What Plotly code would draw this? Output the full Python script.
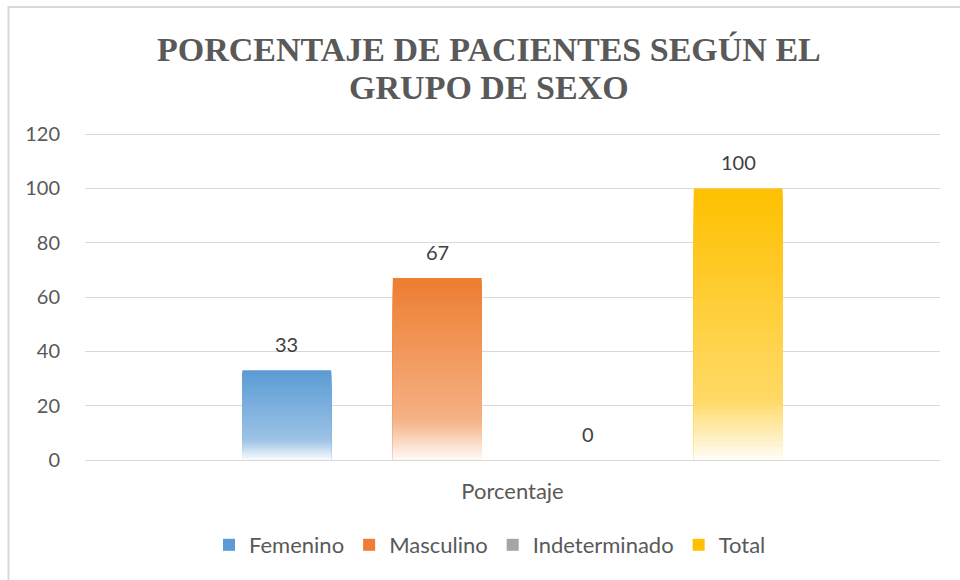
import plotly.graph_objects as go

# ---- data ----
category = ["Porcentaje"]
series_names = ["Femenino", "Masculino", "Indeterminado", "Total"]
series_values = [33, 67, 0, 100]
series_colors = ["#5B9BD5", "#ED7D31", "#A5A5A5", "#FFC000"]
y_ticks = [0, 20, 40, 60, 80, 100, 120]
title_lines = ["PORCENTAJE DE PACIENTES SEGÚN EL", "GRUPO DE SEXO"]

# ---- layout geometry (pixels) ----
W, H = 960, 580
ML, MR, MT, MB = 85, 20, 133, 120
PW = W - ML - MR
PH = H - MT - MB
BARGAP = 0.296
BARGROUPGAP = 0.41
Y_RANGE = [0, 120.4]


def px_x(px):
    return (px - ML) / PW


def px_y(py):
    return (H - MB - py) / PH


font_main = "Lato, Open Sans, sans-serif"


# ---- gradient style helpers (Excel-like fade to white at the bottom) ----
def white_frac(h):
    knee, w_knee, w_bottom = 0.22, 0.40, 0.97
    if h >= knee:
        return w_knee * (1 - h) / (1 - knee)
    return w_knee + (w_bottom - w_knee) * (1 - h / knee)


def blend(hex_col, w):
    hex_col = hex_col.lstrip("#")
    r, g, b = (int(hex_col[i:i + 2], 16) for i in (0, 2, 4))
    return "rgb({},{},{})".format(*(round(c + (255 - c) * w) for c in (r, g, b)))


fig = go.Figure()

# main bars
for name, val, col in zip(series_names, series_values, series_colors):
    fig.add_trace(go.Bar(
        name=name, x=category, y=[val], offsetgroup=name,
        marker=dict(color=blend(col, white_frac(1 - 0.5 / 60)), line=dict(width=0)),
        hoverinfo="name+y",
    ))

# lighter, shorter bars drawn on top (same slot) to build the gradient
N = 60
for name, val, col in zip(series_names, series_values, series_colors):
    if val == 0:
        continue
    for k in range(N - 1, 0, -1):
        t = k / N
        fig.add_trace(go.Bar(
            x=category, y=[val * t], offsetgroup=name, showlegend=False,
            marker=dict(color=blend(col, white_frac(t - 0.5 / N)), line=dict(width=0)),
            hoverinfo="skip",
        ))

# value labels (placed above each bar of the group)
slot = PW * (1 - BARGAP) / len(series_names)
annotations = []
for i, (name, val) in enumerate(zip(series_names, series_values)):
    annotations.append(dict(
        text=str(val), x=category[0], y=val, xref="x", yref="y",
        xshift=(i - (len(series_names) - 1) / 2) * slot, yshift=26,
        xanchor="center", yanchor="middle", showarrow=False,
        font=dict(family=font_main, size=20, color="#404040"),
    ))

# title
annotations.append(dict(
    text=("<span style='font-size:34px'>" + title_lines[0] + "</span><br>"
          "<span style='font-size:34px'>" + title_lines[1] + "</span>"),
    xref="paper", yref="paper", x=px_x(489), y=px_y(68),
    xanchor="center", yanchor="middle", showarrow=False,
    font=dict(family="Liberation Serif, Times New Roman, serif", size=29.2,
              color="#595959", weight="bold"),
))

fig.update_layout(
    width=W, height=H,
    margin=dict(l=ML, r=MR, t=MT, b=MB, autoexpand=False),
    paper_bgcolor="white", plot_bgcolor="white",
    barmode="group", bargap=BARGAP, bargroupgap=BARGROUPGAP,
    showlegend=True,
    legend=dict(orientation="h", x=px_x(490), xanchor="center", y=px_y(545), yanchor="middle",
                font=dict(family=font_main, size=22, color="#595959"),
                traceorder="normal", itemwidth=30, tracegroupgap=0),
    xaxis=dict(showgrid=False, showline=True, linecolor="#D9D9D9", linewidth=1,
               ticks="", tickfont=dict(family=font_main, size=22, color="#595959"),
               ticklabelstandoff=12, fixedrange=True),
    yaxis=dict(range=Y_RANGE, tickvals=y_ticks, showgrid=True, gridcolor="#D9D9D9",
               gridwidth=1, zeroline=True, zerolinecolor="#D9D9D9", zerolinewidth=1,
               showline=False, ticks="",
               tickfont=dict(family=font_main, size=20, color="#595959"),
               ticklabelstandoff=24, fixedrange=True),
    annotations=annotations,
    shapes=[
        dict(type="line", xref="paper", yref="paper", x0=px_x(8), x1=px_x(962),
             y0=px_y(7), y1=px_y(7), line=dict(color="#D9D9D9", width=2)),
        dict(type="line", xref="paper", yref="paper", x0=px_x(8.5), x1=px_x(8.5),
             y0=px_y(6), y1=px_y(582), line=dict(color="#D9D9D9", width=2)),
    ],
)

fig.write_html("out.html", config={"displayModeBar": False},
               post_script="document.body.style.margin='0';")
